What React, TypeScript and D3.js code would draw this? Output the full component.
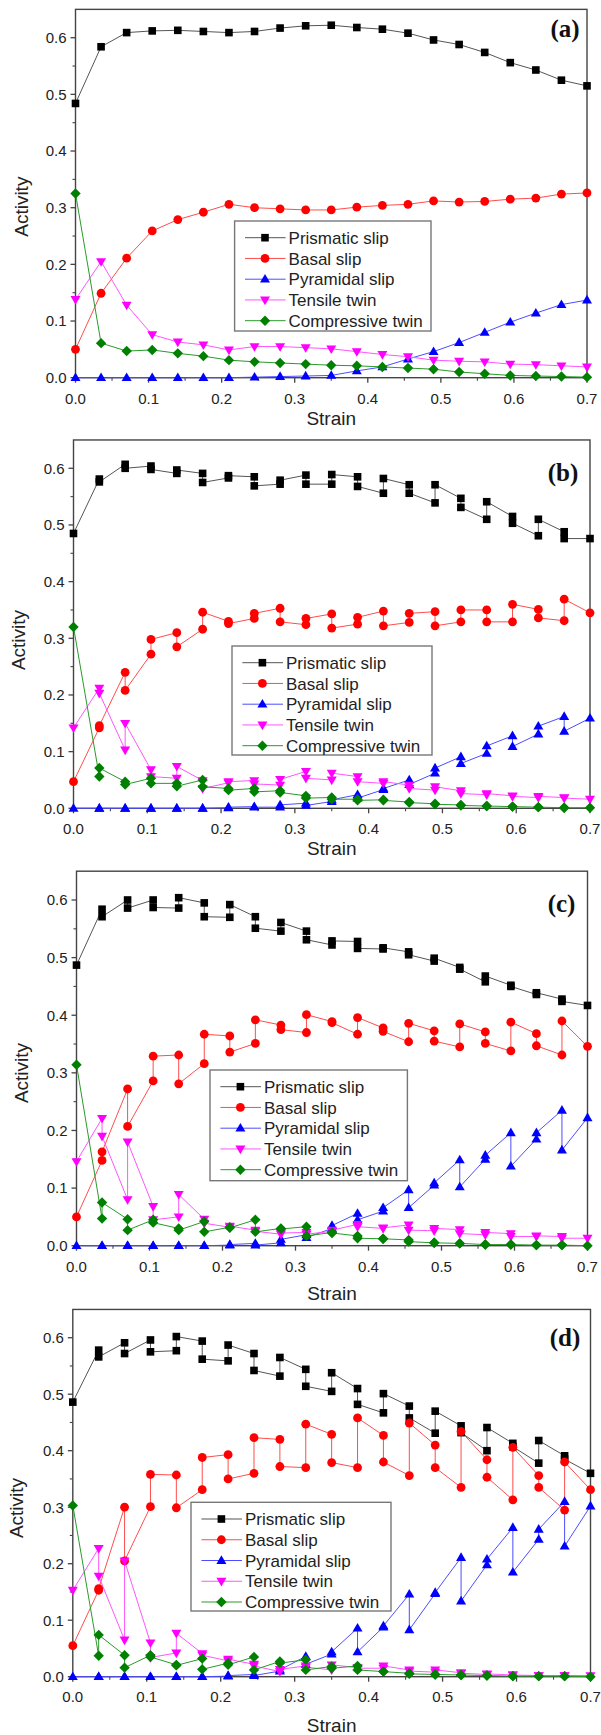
import React from "react";
import * as d3 from "d3";

// ---------- DATA ----------
const strain = [0, 0.035, 0.07, 0.105, 0.14, 0.175, 0.21, 0.245, 0.28, 0.315, 0.35, 0.385, 0.42, 0.455, 0.49, 0.525, 0.56, 0.595, 0.63, 0.665, 0.7];
const seriesNames = ["Prismatic slip", "Basal slip", "Pyramidal slip", "Tensile twin", "Compressive twin"];
const yTicks = [0, 0.1, 0.2, 0.3, 0.4, 0.5, 0.6];
const xTicks = [0, 0.1, 0.2, 0.3, 0.4, 0.5, 0.6, 0.7];
const panelLabels = ["(a)", "(b)", "(c)", "(d)"];

// panel (a): one value per strain
const aPrismatic = [0.484, 0.584, 0.609, 0.612, 0.613, 0.611, 0.609, 0.611, 0.617, 0.621, 0.622, 0.618, 0.615, 0.608, 0.596, 0.588, 0.574, 0.556, 0.543, 0.525, 0.515];
const aBasal = [0.05, 0.149, 0.211, 0.259, 0.279, 0.292, 0.306, 0.3, 0.298, 0.296, 0.296, 0.301, 0.304, 0.306, 0.312, 0.31, 0.311, 0.315, 0.317, 0.324, 0.326];
const aPyramidal = [0, 0, 0, 0, 0, 0, 0, 0.001, 0.002, 0.003, 0.004, 0.012, 0.019, 0.033, 0.046, 0.062, 0.08, 0.098, 0.114, 0.129, 0.137];
const aTensile = [0.138, 0.205, 0.128, 0.076, 0.063, 0.058, 0.049, 0.055, 0.055, 0.053, 0.051, 0.046, 0.041, 0.037, 0.031, 0.029, 0.028, 0.024, 0.023, 0.021, 0.019];
const aCompressive = [0.325, 0.061, 0.047, 0.049, 0.043, 0.038, 0.031, 0.028, 0.026, 0.024, 0.022, 0.021, 0.019, 0.017, 0.015, 0.01, 0.007, 0.004, 0.003, 0.002, 0.001];

// panels (b)-(d): two values per strain (in drawing order), single at 0 and 0.7
const bPrismatic = [0.485, 0.581, 0.576, 0.607, 0.600, 0.604, 0.598, 0.591, 0.597, 0.591, 0.575, 0.583, 0.587, 0.585, 0.569, 0.572, 0.579, 0.588, 0.572, 0.572, 0.589, 0.585, 0.568, 0.556, 0.582, 0.571, 0.556, 0.539, 0.571, 0.547, 0.531, 0.510, 0.541, 0.515, 0.503, 0.481, 0.510, 0.488, 0.476, 0.476];
const bBasal = [0.047, 0.142, 0.146, 0.240, 0.208, 0.272, 0.298, 0.310, 0.285, 0.316, 0.346, 0.330, 0.326, 0.335, 0.344, 0.353, 0.329, 0.324, 0.335, 0.343, 0.318, 0.325, 0.337, 0.348, 0.322, 0.328, 0.344, 0.347, 0.322, 0.329, 0.350, 0.350, 0.329, 0.329, 0.360, 0.351, 0.336, 0.331, 0.369, 0.345];
const bPyramidal = [0, 0, 0, 0, 0, 0, 0, 0, 0, 0, 0, 0.001, 0.002, 0.003, 0.002, 0.002, 0.006, 0.009, 0.005, 0.012, 0.015, 0.024, 0.018, 0.033, 0.035, 0.050, 0.042, 0.062, 0.071, 0.091, 0.079, 0.097, 0.110, 0.128, 0.109, 0.131, 0.145, 0.162, 0.136, 0.159];
const bTensile = [0.142, 0.212, 0.203, 0.103, 0.150, 0.068, 0.056, 0.053, 0.074, 0.049, 0.035, 0.045, 0.047, 0.049, 0.043, 0.041, 0.051, 0.065, 0.053, 0.050, 0.062, 0.056, 0.047, 0.044, 0.047, 0.041, 0.035, 0.032, 0.038, 0.031, 0.026, 0.024, 0.026, 0.022, 0.021, 0.019, 0.021, 0.019, 0.018, 0.016];
const bCompressive = [0.320, 0.056, 0.071, 0.047, 0.042, 0.053, 0.044, 0.044, 0.039, 0.050, 0.038, 0.035, 0.032, 0.035, 0.029, 0.031, 0.028, 0.022, 0.018, 0.019, 0.016, 0.016, 0.014, 0.015, 0.014, 0.011, 0.010, 0.008, 0.007, 0.006, 0.005, 0.004, 0.004, 0.003, 0.003, 0.002, 0.002, 0.001, 0.001, 0.001];

const cPrismatic = [0.487, 0.584, 0.571, 0.600, 0.586, 0.600, 0.587, 0.586, 0.604, 0.595, 0.571, 0.570, 0.592, 0.571, 0.551, 0.546, 0.561, 0.546, 0.531, 0.522, 0.529, 0.528, 0.516, 0.515, 0.517, 0.510, 0.505, 0.494, 0.499, 0.483, 0.480, 0.458, 0.468, 0.452, 0.450, 0.436, 0.439, 0.428, 0.424, 0.417];
const cBasal = [0.050, 0.148, 0.163, 0.272, 0.207, 0.286, 0.329, 0.331, 0.281, 0.316, 0.367, 0.364, 0.336, 0.351, 0.392, 0.383, 0.375, 0.370, 0.401, 0.389, 0.387, 0.367, 0.396, 0.378, 0.372, 0.354, 0.386, 0.373, 0.355, 0.345, 0.385, 0.371, 0.351, 0.338, 0.388, 0.368, 0.347, 0.331, 0.390, 0.346];
const cPyramidal = [0, 0, 0, 0, 0, 0, 0, 0, 0, 0, 0, 0.001, 0.002, 0.004, 0.001, 0.005, 0.011, 0.019, 0.014, 0.030, 0.035, 0.056, 0.045, 0.060, 0.066, 0.097, 0.066, 0.105, 0.109, 0.149, 0.102, 0.150, 0.157, 0.196, 0.138, 0.185, 0.196, 0.235, 0.166, 0.222];
const cTensile = [0.146, 0.221, 0.190, 0.080, 0.180, 0.068, 0.045, 0.050, 0.089, 0.046, 0.039, 0.032, 0.034, 0.027, 0.025, 0.020, 0.022, 0.023, 0.020, 0.025, 0.027, 0.037, 0.033, 0.030, 0.031, 0.036, 0.027, 0.026, 0.030, 0.028, 0.021, 0.019, 0.023, 0.021, 0.016, 0.016, 0.017, 0.016, 0.013, 0.013];
const cCompressive = [0.314, 0.047, 0.075, 0.046, 0.027, 0.045, 0.040, 0.030, 0.027, 0.042, 0.024, 0.032, 0.031, 0.045, 0.024, 0.030, 0.029, 0.033, 0.017, 0.023, 0.022, 0.017, 0.013, 0.012, 0.012, 0.010, 0.007, 0.005, 0.005, 0.004, 0.004, 0.002, 0.002, 0.002, 0.002, 0.001, 0.001, 0.001, 0.001, 0.000];

const dPrismatic = [0.486, 0.578, 0.566, 0.591, 0.572, 0.596, 0.575, 0.577, 0.602, 0.594, 0.562, 0.559, 0.587, 0.572, 0.542, 0.532, 0.565, 0.544, 0.514, 0.505, 0.538, 0.510, 0.482, 0.467, 0.501, 0.479, 0.458, 0.431, 0.470, 0.444, 0.432, 0.400, 0.441, 0.413, 0.407, 0.378, 0.418, 0.391, 0.385, 0.360];
const dBasal = [0.055, 0.153, 0.156, 0.300, 0.205, 0.301, 0.358, 0.357, 0.299, 0.331, 0.388, 0.393, 0.350, 0.360, 0.423, 0.420, 0.372, 0.370, 0.447, 0.429, 0.379, 0.370, 0.458, 0.427, 0.380, 0.356, 0.449, 0.410, 0.370, 0.335, 0.434, 0.384, 0.353, 0.313, 0.406, 0.356, 0.335, 0.295, 0.380, 0.331];
const dPyramidal = [0, 0, 0, 0, 0, 0, 0, 0, 0, 0, 0, 0.001, 0.002, 0.004, 0.002, 0.010, 0.012, 0.036, 0.022, 0.040, 0.044, 0.086, 0.044, 0.088, 0.090, 0.146, 0.083, 0.147, 0.149, 0.211, 0.134, 0.198, 0.208, 0.264, 0.185, 0.243, 0.261, 0.310, 0.231, 0.302];
const dTensile = [0.153, 0.227, 0.178, 0.065, 0.205, 0.060, 0.034, 0.042, 0.077, 0.041, 0.038, 0.028, 0.031, 0.022, 0.019, 0.009, 0.013, 0.019, 0.017, 0.012, 0.021, 0.016, 0.015, 0.015, 0.019, 0.012, 0.010, 0.008, 0.012, 0.007, 0.006, 0.004, 0.005, 0.003, 0.003, 0.002, 0.002, 0.002, 0.002, 0.002];
const dCompressive = [0.303, 0.037, 0.074, 0.038, 0.016, 0.038, 0.035, 0.021, 0.020, 0.032, 0.013, 0.024, 0.021, 0.035, 0.012, 0.027, 0.024, 0.030, 0.012, 0.018, 0.015, 0.019, 0.012, 0.009, 0.009, 0.006, 0.005, 0.004, 0.004, 0.003, 0.003, 0.002, 0.002, 0.001, 0.001, 0.001, 0.001, 0.001, 0.001, 0.000];

// ---------- STYLE / LAYOUT ----------
const markerColors = ["#000000", "#ff0000", "#0000ff", "#ff00ff", "#008000"];
const lineColors = ["#555555", "#ff4d4d", "#4d4dff", "#ff55ff", "#2a9a2a"];
const shapes = ["square", "circle", "triUp", "triDown", "diamond"];

const layouts = [
  { x0: 75.5, x1: 587.0, y0: 377.7, y6: 37.7, legend: { x: 234.6, y: 221, w: 196.4, h: 110 }, act: { x: 21, y: 206.7 }, xl: 20.6, st: 40.6, lab: { x: 565, y: 28 } },
  { x0: 73.5, x1: 590.0, y0: 808.3, y6: 468.3, legend: { x: 232, y: 646, w: 200, h: 109 }, act: { x: 18, y: 640 }, xl: 20.0, st: 40.0, lab: { x: 563, y: 471.7 } },
  { x0: 76.5, x1: 587.5, y0: 1245.7, y6: 900.0, legend: { x: 210, y: 1070, w: 197.4, h: 110.7 }, act: { x: 21, y: 1073 }, xl: 21.0, st: 47.0, lab: { x: 561.5, y: 903 } },
  { x0: 72.8, x1: 590.5, y0: 1676.7, y6: 1337.7, legend: { x: 191, y: 1502.3, w: 200, h: 108.7 }, act: { x: 16, y: 1508 }, xl: 20.0, st: 48.0, lab: { x: 565, y: 1337 } },
];

const panelData = [
  [aPrismatic, aBasal, aPyramidal, aTensile, aCompressive],
  [bPrismatic, bBasal, bPyramidal, bTensile, bCompressive],
  [cPrismatic, cBasal, cPyramidal, cTensile, cCompressive],
  [dPrismatic, dBasal, dPyramidal, dTensile, dCompressive],
];

// x path for two-values-per-strain panels
const strainPath = [strain[0], ...strain.slice(1, strain.length - 1).flatMap((s) => [s, s]), strain[strain.length - 1]];

function Marker({ shape, x, y, color }: { shape: string; x: number; y: number; color: string }) {
  const t = `translate(${x},${y})`;
  if (shape === "square") return <rect x={x - 3.8} y={y - 3.8} width={7.6} height={7.6} fill={color} />;
  if (shape === "circle") return <circle cx={x} cy={y} r={4.4} fill={color} />;
  if (shape === "triUp") return <path transform={t} d="M0,-5.2L5,3.4L-5,3.4Z" fill={color} />;
  if (shape === "triDown") return <path transform={t} d="M0,5.2L5,-3.4L-5,-3.4Z" fill={color} />;
  return <path transform={t} d="M0,-5.2L5.2,0L0,5.2L-5.2,0Z" fill={color} />;
}

const FONT = "'Liberation Sans', Arial, Helvetica, sans-serif";

function Panel({ idx }: { idx: number }) {
  const L = layouts[idx];
  const yTop = L.y0 - ((L.y0 - L.y6) * 0.65) / 0.6;
  const x = d3.scaleLinear().domain([0, 0.7]).range([L.x0, L.x1]);
  const y = d3.scaleLinear().domain([0, 0.65]).range([L.y0, yTop]);
  const series = panelData[idx];
  const xs = idx === 0 ? strain : strainPath;
  const minorY = d3.range(0.05, 0.65, 0.1);
  const minorX = d3.range(0.05, 0.7, 0.1);
  const line = d3
    .line<number>()
    .x((_, i) => x(xs[i]))
    .y((v) => y(v));
  const lg = L.legend;
  return (
    <g>
      <rect x={L.x0} y={yTop} width={L.x1 - L.x0} height={L.y0 - yTop} fill="none" stroke="#444" strokeWidth={1.4} />
      {yTicks.map((t) => (
        <g key={"yt" + t}>
          <line x1={L.x0 - 5} x2={L.x0} y1={y(t)} y2={y(t)} stroke="#444" strokeWidth={1.3} />
          <text x={L.x0 - 9} y={y(t)} dy="0.36em" textAnchor="end" fontSize={15} fill="#222" fontFamily={FONT}>
            {t.toFixed(1)}
          </text>
        </g>
      ))}
      {minorY.map((t) => (
        <line key={"ym" + t} x1={L.x0 - 3} x2={L.x0} y1={y(t)} y2={y(t)} stroke="#444" strokeWidth={1.1} />
      ))}
      {xTicks.map((t) => (
        <g key={"xt" + t}>
          <line x1={x(t)} x2={x(t)} y1={L.y0} y2={L.y0 + 5} stroke="#444" strokeWidth={1.3} />
          <text x={x(t)} y={L.y0 + L.xl} dy="0.36em" textAnchor="middle" fontSize={15} fill="#222" fontFamily={FONT}>
            {t.toFixed(1)}
          </text>
        </g>
      ))}
      {minorX.map((t) => (
        <line key={"xm" + t} x1={x(t)} x2={x(t)} y1={L.y0} y2={L.y0 + 3} stroke="#444" strokeWidth={1.1} />
      ))}
      <text x={(L.x0 + L.x1) / 2} y={L.y0 + L.st} dy="0.36em" textAnchor="middle" fontSize={19} fill="#222" fontFamily={FONT}>
        Strain
      </text>
      <text transform={`translate(${L.act.x},${L.act.y}) rotate(-90)`} dy="0.36em" textAnchor="middle" fontSize={19} fill="#222" fontFamily={FONT}>
        Activity
      </text>
      {series.map((vals, s) => (
        <path key={"l" + s} d={line(vals) || ""} fill="none" stroke={lineColors[s]} strokeWidth={1} />
      ))}
      {series.map((vals, s) =>
        vals.map((v, i) => <Marker key={"m" + s + "-" + i} shape={shapes[s]} x={x(xs[i])} y={y(v)} color={markerColors[s]} />)
      )}
      <rect x={lg.x} y={lg.y} width={lg.w} height={lg.h} fill="#fff" stroke="#777" strokeWidth={1.4} />
      {seriesNames.map((n, s) => {
        const cy = lg.y + 16.7 + s * 20.75;
        return (
          <g key={"lg" + s}>
            <line x1={lg.x + 10.4} x2={lg.x + 51} y1={cy} y2={cy} stroke={lineColors[s]} strokeWidth={1} />
            <Marker shape={shapes[s]} x={lg.x + 30.4} y={cy} color={markerColors[s]} />
            <text x={lg.x + 54} y={cy} dy="0.36em" fontSize={17} fill="#222" fontFamily={FONT}>
              {n}
            </text>
          </g>
        );
      })}
      <text x={L.lab.x} y={L.lab.y} dy="0.36em" textAnchor="middle" fontSize={25} fontWeight="bold" fill="#111" fontFamily="'Liberation Serif', 'Times New Roman', serif">
        {panelLabels[idx]}
      </text>
    </g>
  );
}

export default function App() {
  return (
    <svg width={601} height={1735} style={{ position: "absolute", left: 0, top: 0, background: "#fff" }}>
      <rect x={0} y={0} width={601} height={1735} fill="#fff" />
      {layouts.map((_, i) => (
        <Panel key={i} idx={i} />
      ))}
    </svg>
  );
}
